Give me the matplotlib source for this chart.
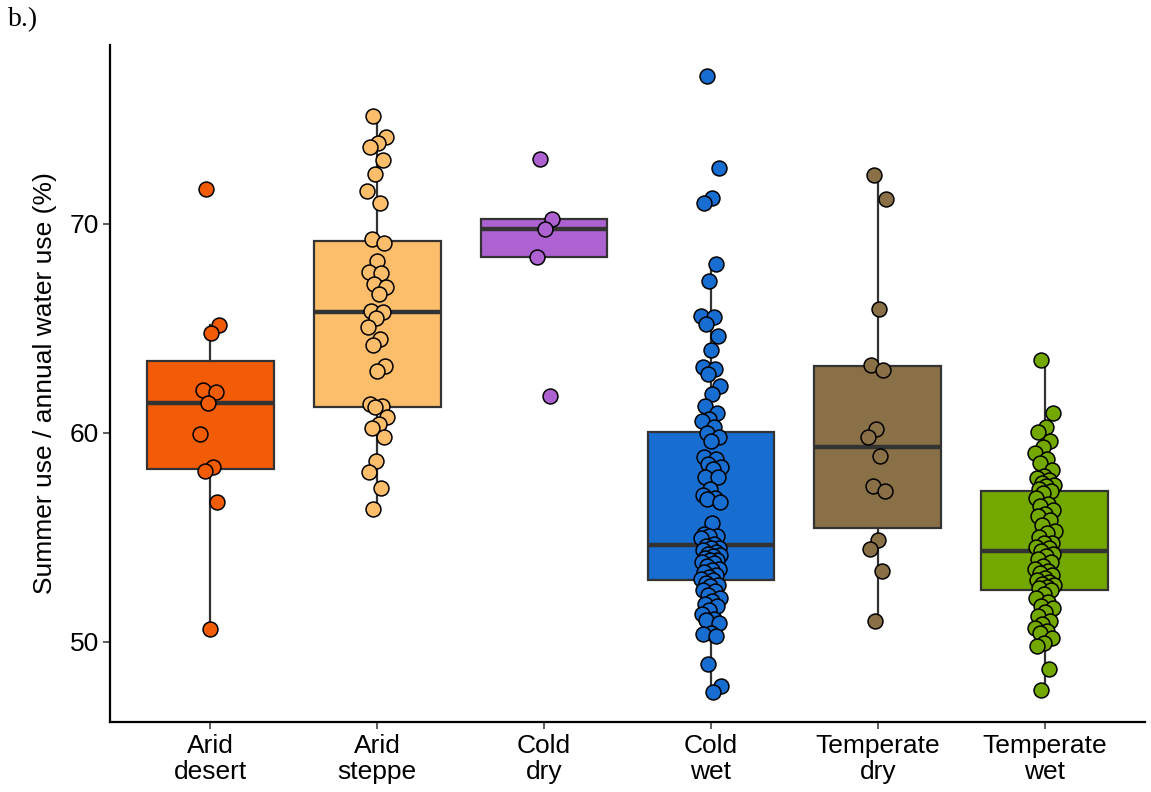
import numpy as np
import matplotlib
matplotlib.use("Agg")
import matplotlib.pyplot as plt

# climate groups and their colours
categories = ["Arid\ndesert", "Arid\nsteppe", "Cold\ndry", "Cold\nwet", "Temperate\ndry", "Temperate\nwet"]
colors = ["#F25C07", "#FDBE6B", "#AE62D2", "#176DD0", "#8A7046", "#72A800"]

# summer use / annual water use (%)
arid_desert = [71.66, 65.17, 64.77, 62.06, 61.93, 61.42, 59.94, 58.34, 58.15, 56.67, 50.61]

arid_steppe = [75.17, 74.18, 73.86, 73.70, 73.06, 72.39, 71.59, 70.99, 69.30, 69.11,
               68.24, 67.72, 67.67, 67.13, 66.97, 66.65, 65.85, 65.80, 65.49, 65.06,
               64.48, 64.21, 63.21, 62.98, 61.39, 61.26, 61.23, 60.75, 60.43, 60.22,
               59.79, 58.67, 58.10, 57.35, 56.35]

cold_dry = [73.10, 70.24, 69.75, 68.41, 61.74]

cold_wet = [77.08, 72.66, 71.23, 71.02, 68.09, 67.27, 65.57, 65.54, 65.20, 64.64,
            63.97, 63.14, 63.05, 62.83, 62.25, 61.87, 61.26, 60.94, 60.65, 60.54,
            60.26,
            59.99, 59.80, 59.62, 58.84, 58.74, 58.50, 58.36, 58.26, 57.88, 57.88,
            57.31, 57.04, 56.88, 56.83, 56.70, 55.68, 55.17, 55.07, 55.04, 54.96,
            54.66,
            54.56, 54.50, 54.48, 54.40, 54.30, 54.20, 54.16, 54.10, 54.00, 53.92,
            53.90, 53.80, 53.77, 53.60, 53.50, 53.44, 53.32, 53.20, 53.10, 53.00,
            52.97,
            52.80, 52.70, 52.65, 52.49, 52.40, 52.25, 52.10, 51.93, 51.80, 51.70,
            51.53, 51.30, 51.09, 51.02, 50.90, 50.42, 50.34, 50.25, 48.95, 47.89,
            47.59]

temperate_dry = [72.34, 71.20, 65.92, 63.25, 63.01, 60.18, 59.79, 58.87, 57.47, 57.19,
                 54.88, 54.44, 53.37, 51.00]

temperate_wet = [63.49, 60.94, 60.30, 60.02, 59.59, 59.32, 59.03, 58.74, 58.55, 58.20,
                 57.91, 57.84, 57.75, 57.60, 57.50, 57.44, 57.30,
                 57.20,
                 57.10, 56.88, 56.60, 56.48, 56.32, 56.10, 56.00, 55.84, 55.60, 55.28,
                 55.20, 55.00, 54.73, 54.70, 54.55, 54.48,
                 54.35,
                 54.20, 54.08, 53.95, 53.80, 53.64, 53.50, 53.37, 53.30, 53.20, 53.05,
                 52.95, 52.85, 52.75, 52.70, 52.60, 52.55,
                 52.49,
                 52.30, 52.10, 51.90, 51.70, 51.62, 51.40, 51.22, 51.00, 50.83, 50.67,
                 50.50, 50.43, 50.19, 49.95, 49.80, 48.70, 47.66]

groups = [arid_desert, arid_steppe, cold_dry, cold_wet, temperate_dry, temperate_wet]
yticks = [50, 60, 70]

plt.rcParams['font.family'] = ['Liberation Sans', 'DejaVu Sans']

fig = plt.figure(figsize=(11.51, 7.92), dpi=100)
ax = fig.add_axes([0.0956, 0.0884, 0.8992, 0.8548])

positions = np.arange(1, len(groups) + 1)
bp = ax.boxplot(groups, positions=positions, widths=0.76, patch_artist=True,
                showfliers=False, showcaps=False, whis=1.5,
                boxprops=dict(edgecolor="#333333", linewidth=1.6),
                whiskerprops=dict(color="#333333", linewidth=1.6),
                medianprops=dict(color="#333333", linewidth=3.2, solid_capstyle="butt"),
                zorder=1)
for patch, c in zip(bp["boxes"], colors):
    patch.set_facecolor(c)

# deterministic jitter (golden ratio sequence)
for pos, vals, c in zip(positions, groups, colors):
    idx = np.arange(len(vals))
    offs = ((idx * 0.6180339887 + 0.3) % 1.0 - 0.5) * 0.12
    ax.scatter(pos + offs, vals, s=115, color=c, edgecolor="black",
               linewidth=1.1, zorder=3)

ax.set_xlim(0.4, 6.6)
ax.set_ylim(46.15, 78.57)
ax.set_xticks(positions)
ax.set_xticklabels(categories, fontsize=19, color="black", linespacing=1.1)
ax.set_yticks(yticks)
ax.set_yticklabels([str(t) for t in yticks], fontsize=19, color="black")
ax.tick_params(axis="both", length=5, width=1.1, color="#333333", pad=3)
ax.tick_params(axis="x", pad=4)
ax.set_ylabel("Summer use / annual water use (%)", fontsize=19, labelpad=9)

for s in ["top", "right"]:
    ax.spines[s].set_visible(False)
for s in ["left", "bottom"]:
    ax.spines[s].set_linewidth(1.6)
    ax.spines[s].set_color("black")

fig.text(0.007, 0.975, "b.)", fontsize=20, family="Liberation Serif", va="center")

fig.savefig("out.png", dpi=100)
